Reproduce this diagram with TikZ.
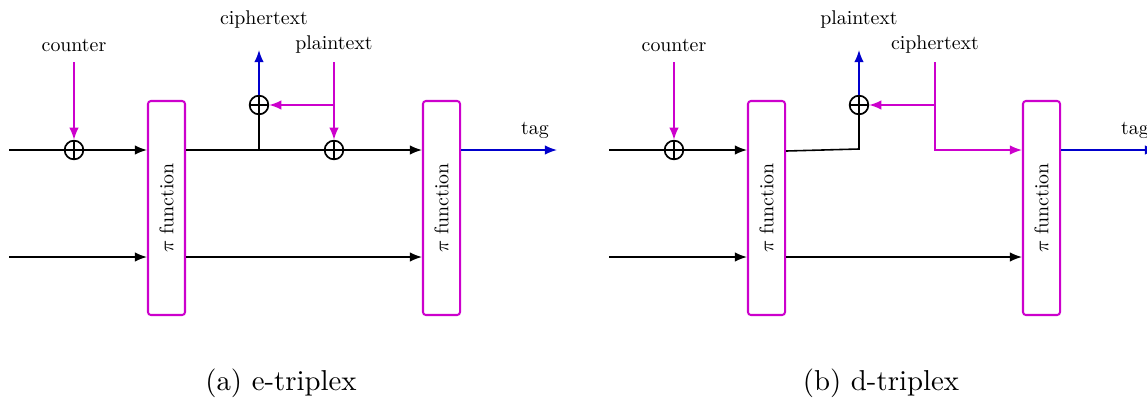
\documentclass[tikz,border=0pt]{standalone}
\usepackage{graphicx}
\usetikzlibrary{arrows.meta}
\definecolor{mag}{RGB}{204,0,204}
\definecolor{blu}{RGB}{0,0,204}
\newcommand{\smtxt}[1]{\scalebox{0.69}{#1}}
\begin{document}
\begin{tikzpicture}[x=0.3472pt,y=-0.3472pt,
  line width=0.55pt,
  arr/.style={-{Latex[length=4.2pt,width=3.3pt]}},
  xor/.style={circle,draw,line width=0.6pt,minimum size=6.5pt,inner sep=0pt,
    path picture={\draw[line width=0.6pt] (path picture bounding box.north) -- (path picture bounding box.south) (path picture bounding box.west) -- (path picture bounding box.east);}},
  fbox/.style={draw=mag,rounded corners=1pt,line width=0.7pt,minimum width=12.85pt,minimum height=74.3pt,inner sep=0pt},
  lbl/.style={font=\normalsize,inner sep=0pt},
  captext/.style={font=\normalsize,inner sep=0pt}
]
\useasboundingbox (0,0) rectangle (1147,398);
% ---------------- (a) e-triplex ----------------
\coordinate (inA1) at (9,150);
\coordinate (inB1) at (9,257);
\node[xor] (xa1) at (74,150) {};
\node[lbl] (cnt1) at (74,45) {\smtxt{counter}};
\coordinate (cnt1s) at (74,62);
\node[fbox] (b1) at (166.5,208) {\rotatebox{90}{\smtxt{$\pi$ function}}};
\node[fbox] (b2) at (441.5,208) {\rotatebox{90}{\smtxt{$\pi$ function}}};
\node[xor] (xb1) at (334,150) {};
\node[xor] (xc1) at (259,105) {};
\coordinate (br1) at (259,150);
\coordinate (ctout1) at (259,50);
\node[lbl] (ctl1) at (264,20) {\smtxt{ciphertext}};
\node[lbl] (ptl1) at (334,45) {\smtxt{plaintext}};
\coordinate (ptl1s) at (334,62);
\coordinate (br2) at (334,105);
\coordinate (tagout1) at (557,150);
\node[lbl] (tagl1) at (535,130) {\smtxt{tag}};
\node[captext] (capa) at (281,383) {(a) e-triplex};

\draw (inA1) -- (xa1);
\draw[arr] (xa1) -- (xa1 -| b1.west);
\draw[arr] (inB1) -- (inB1 -| b1.west);
\draw[mag,arr] (cnt1s) -- (xa1);
\draw (b1.east |- xa1) -- (xb1);
\draw[arr] (xb1) -- (xb1 -| b2.west);
\draw (br1) -- (xc1);
\draw[blu,arr] (xc1) -- (ctout1);
\draw[mag,arr] (ptl1s) -- (xb1);
\draw[mag,arr] (br2) -- (xc1);
\draw[blu,arr] (b2.east |- xa1) -- (tagout1);
\draw[arr] (b1.east |- inB1) -- (inB1 -| b2.west);

% ---------------- (b) d-triplex ----------------
\coordinate (inA2) at (609,150);
\coordinate (inB2) at (609,257);
\node[xor] (xa2) at (674,150) {};
\node[lbl] (cnt2) at (674,45) {\smtxt{counter}};
\coordinate (cnt2s) at (674,62);
\node[fbox] (b3) at (766.5,208) {\rotatebox{90}{\smtxt{$\pi$ function}}};
\node[fbox] (b4) at (1041.5,208) {\rotatebox{90}{\smtxt{$\pi$ function}}};
\node[xor] (xc2) at (859,105) {};
\coordinate (br3) at (859,149);
\coordinate (ptout2) at (859,50);
\node[lbl] (ptl2) at (859,20) {\smtxt{plaintext}};
\node[lbl] (ctl2) at (935,45) {\smtxt{ciphertext}};
\coordinate (ctl2s) at (935,62);
\coordinate (br4) at (935,105);
\coordinate (tagout2) at (1157,150);
\node[lbl] (tagl2) at (1135,130) {\smtxt{tag}};
\node[captext] (capb) at (881,383) {(b) d-triplex};

\draw (inA2) -- (xa2);
\draw[arr] (xa2) -- (xa2 -| b3.west);
\draw[arr] (inB2) -- (inB2 -| b3.west);
\draw[mag,arr] (cnt2s) -- (xa2);
\draw ([yshift=-0.35pt]b3.east |- xa2) -- (br3) -- (xc2);
\draw[blu,arr] (xc2) -- (ptout2);
\draw[mag,arr] (ctl2s) |- (b4.west |- xa2);
\draw[mag,arr] (br4) -- (xc2);
\draw[blu,arr] (b4.east |- xa2) -- (tagout2);
\draw[arr] (b3.east |- inB2) -- (inB2 -| b4.west);
\end{tikzpicture}
\end{document}
